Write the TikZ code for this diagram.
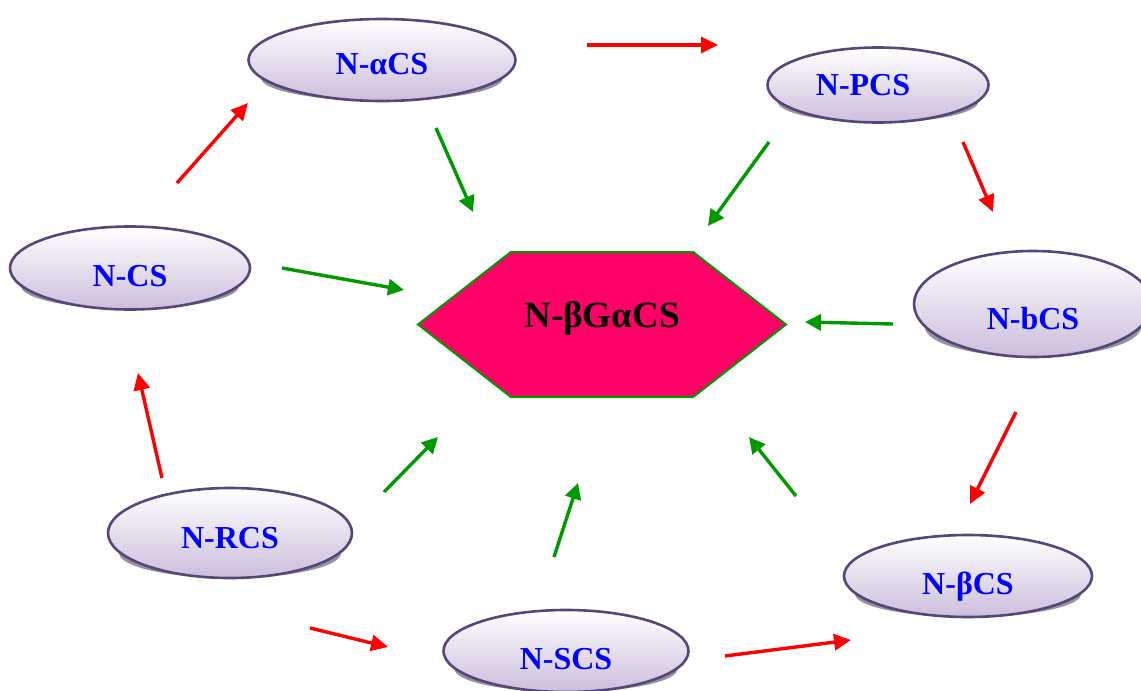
\documentclass[tikz,border=0pt]{standalone}
\usepackage{fontspec}
\setmainfont{Liberation Serif}
\usetikzlibrary{arrows.meta,shapes.geometric,shapes.symbols}
\definecolor{ovalline}{RGB}{88,70,120}
\definecolor{ovalbottom}{RGB}{204,190,220}
\definecolor{ovalgray}{RGB}{150,145,160}
\definecolor{coreRed}{RGB}{255,0,102}
\definecolor{arrowGreen}{RGB}{0,153,0}
\begin{document}
\begin{tikzpicture}[x=0.5pt, y=-0.5pt,
    ovalStyle/.style={ellipse, draw=ovalline, line width=1.3pt, top color=white, bottom color=ovalbottom,
        text=blue, font=\fontsize{16}{18}\selectfont\bfseries, inner sep=0pt, text height=18pt, text depth=0pt},
    ovalShadow/.style={fill=ovalgray},
    coreStyle/.style={signal, signal to=east and west, signal pointer angle=76, draw=arrowGreen, line width=1pt,
        fill=coreRed, font=\fontsize{18.5}{22}\selectfont\bfseries, minimum width=184pt, minimum height=72.5pt,
        inner sep=0pt, text height=2.8pt, text depth=0pt},
    redArrow/.style={draw=red, line width=1.7pt, -{Triangle[length=8.5pt, width=8pt]}},
    greenArrow/.style={draw=arrowGreen, line width=1.7pt, -{Triangle[length=8pt, width=8pt]}}]
\useasboundingbox (0,0) rectangle (1141,691);

% shadows
\fill[ovalShadow] (382,78) ellipse [x radius=121, y radius=23];
\fill[ovalShadow] (878,101.5) ellipse [x radius=100.5, y radius=21];
\fill[ovalShadow] (130,286) ellipse [x radius=109, y radius=23];
\fill[ovalShadow] (1033,327) ellipse [x radius=108, y radius=30];
\fill[ovalShadow] (230,553) ellipse [x radius=111, y radius=25];
\fill[ovalShadow] (566,669) ellipse [x radius=111.5, y radius=23];
\fill[ovalShadow] (968,594) ellipse [x radius=113, y radius=23];

\node[ovalStyle, minimum width=133.5pt, minimum height=41pt, text height=14pt] (nacs) at (382,60) {N-αCS};
\node[ovalStyle, minimum width=110.5pt, minimum height=37.5pt, text height=10.5pt] (npcs) at (878,85) {N-PCS\kern15pt};
\node[ovalStyle, minimum width=120pt, minimum height=41.5pt] (ncs) at (130,268) {N-CS};
\node[ovalStyle, minimum width=119pt, minimum height=53pt, text height=25pt] (nbcs) at (1033,304) {N-bCS};
\node[ovalStyle, minimum width=122pt, minimum height=45pt, text height=15pt] (nrcs) at (230,533) {N-RCS};
\node[ovalStyle, minimum width=122.5pt, minimum height=41pt] (nscs) at (566,651) {N-SCS};
\node[ovalStyle, minimum width=124pt, minimum height=41pt] (nbtcs) at (968,576) {N-βCS};

\node[coreStyle] (core) at (602,324.5) {N-βGαCS};

% arrow ends
\coordinate (r1a) at (177,183);  \coordinate (r1b) at (248,103);
\coordinate (r2a) at (587,45);   \coordinate (r2b) at (718,45);
\coordinate (r3a) at (963,142);  \coordinate (r3b) at (993,212);
\coordinate (r4a) at (1016,412); \coordinate (r4b) at (970,504);
\coordinate (r5a) at (725,656);  \coordinate (r5b) at (851,640);
\coordinate (r6a) at (310,628);  \coordinate (r6b) at (388,647);
\coordinate (r7a) at (162,478);  \coordinate (r7b) at (138,373);

\coordinate (g1a) at (436,128);  \coordinate (g1b) at (473,212);
\coordinate (g2a) at (769,142);  \coordinate (g2b) at (708,226);
\coordinate (g3a) at (282,268);  \coordinate (g3b) at (404,290);
\coordinate (g4a) at (893,324);  \coordinate (g4b) at (805,322);
\coordinate (g5a) at (384,492);  \coordinate (g5b) at (438,437);
\coordinate (g6a) at (554,557);  \coordinate (g6b) at (578,483);
\coordinate (g7a) at (796,496);  \coordinate (g7b) at (749,437);

\draw[redArrow] (r1a) -- (r1b);
\draw[redArrow] (r2a) -- (r2b);
\draw[redArrow] (r3a) -- (r3b);
\draw[redArrow] (r4a) -- (r4b);
\draw[redArrow] (r5a) -- (r5b);
\draw[redArrow] (r6a) -- (r6b);
\draw[redArrow] (r7a) -- (r7b);

\draw[greenArrow] (g1a) -- (g1b);
\draw[greenArrow] (g2a) -- (g2b);
\draw[greenArrow] (g3a) -- (g3b);
\draw[greenArrow] (g4a) -- (g4b);
\draw[greenArrow] (g5a) -- (g5b);
\draw[greenArrow] (g6a) -- (g6b);
\draw[greenArrow] (g7a) -- (g7b);
\end{tikzpicture}
\end{document}
